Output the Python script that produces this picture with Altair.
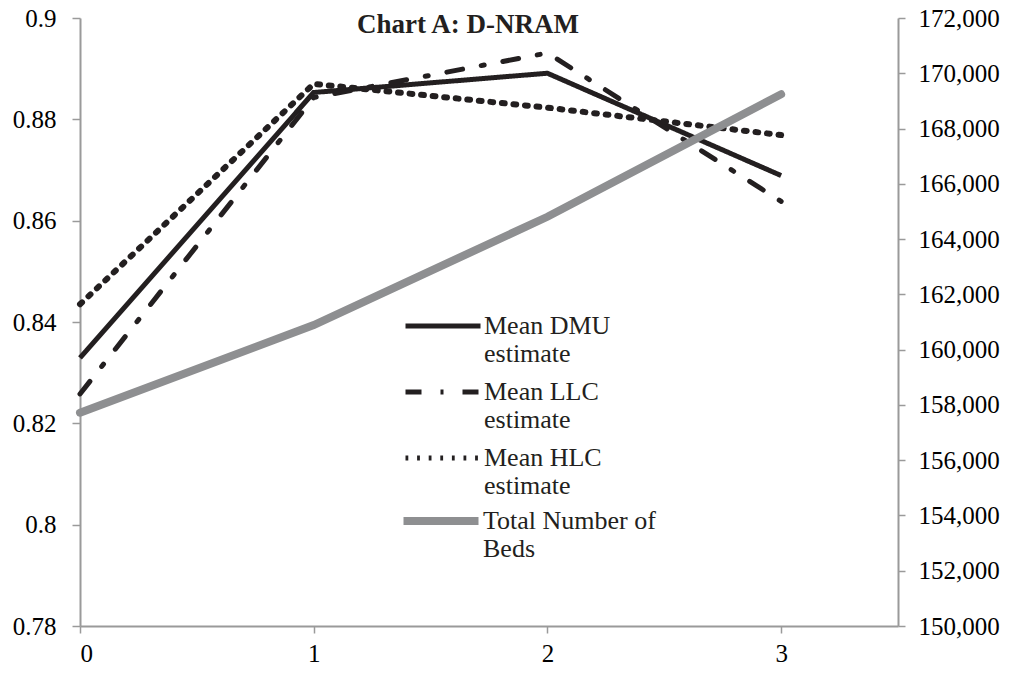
import altair as alt
import pandas as pd

x_vals = [0, 1, 2, 3]
dmu = [0.8329, 0.8853, 0.8891, 0.8689]
llc = [0.8258, 0.8843, 0.8931, 0.8638]
hlc = [0.8435, 0.8870, 0.8823, 0.8769]
beds = [157717, 160890, 164808, 169240]

mean_names = ["Mean DMU\nestimate", "Mean LLC\nestimate", "Mean HLC\nestimate"]
beds_name = "Total Number of\nBeds"
mean_colors = ["#231f20", "#231f20", "#231f20"]
beds_color = "#8e8f91"
dashes = [[1, 0], [16, 19, 3, 19], [2.8, 8.8]]

left_rows = []
for name, vals in zip(mean_names, [dmu, llc, hlc]):
    for xv, v in zip(x_vals, vals):
        left_rows.append({"x": xv, "value": v, "series": name})
left_df = pd.DataFrame(left_rows)
right_df = pd.DataFrame({"x": x_vals, "value": beds, "series2": beds_name})

FONT = "Liberation Serif"
AX_GRAY = "#9a9a9a"
SYMBOL = "M-6.25,0H1.25"

leg1 = alt.Legend(labelExpr="split(datum.label, '\\n')", title=None,
                  orient="none", legendX=375, legendY=295, symbolStrokeWidth=5,
                  rowPadding=12)
leg2 = alt.Legend(labelExpr="split(datum.label, '\\n')", title=None,
                  orient="none", legendX=372, legendY=489, symbolStrokeWidth=8)

color = alt.Color("series:N", scale=alt.Scale(domain=mean_names, range=mean_colors),
                  sort=mean_names, legend=leg1)
dash = alt.StrokeDash("series:N", scale=alt.Scale(domain=mean_names, range=dashes),
                      sort=mean_names, legend=leg1)

xenc = alt.X("x:Q", scale=alt.Scale(domain=[0, 3.5], nice=False),
             axis=alt.Axis(values=[0, 1, 2, 3], format="d", title=None, grid=False,
                           domainColor=AX_GRAY, domainWidth=2, tickColor=AX_GRAY,
                           tickWidth=1.5, tickSize=7, labelPadding=8))

yleft = alt.Y("value:Q", scale=alt.Scale(domain=[0.78, 0.9], nice=False, zero=False),
              axis=alt.Axis(orient="left", values=[0.78, 0.8, 0.82, 0.84, 0.86, 0.88, 0.9],
                            format=".2~f", title=None, grid=False,
                            domainColor=AX_GRAY, domainWidth=2, tickColor=AX_GRAY,
                            tickWidth=1.5, tickSize=8, labelPadding=16))

base_left = alt.Chart(left_df).encode(x=xenc, y=yleft, color=color, strokeDash=dash)

l_dmu = base_left.transform_filter(alt.datum.series == mean_names[0]).mark_line(
    strokeCap="butt", strokeWidth=5)
l_llc = base_left.transform_filter(alt.datum.series == mean_names[1]).mark_line(
    strokeCap="round", strokeWidth=5)
l_hlc = base_left.transform_filter(alt.datum.series == mean_names[2]).mark_line(
    strokeCap="round", strokeWidth=6)

left = alt.layer(l_dmu, l_llc, l_hlc)

right = alt.Chart(right_df).mark_line(strokeCap="round", strokeWidth=8).encode(
    x=xenc,
    y=alt.Y("value:Q", scale=alt.Scale(domain=[150000, 172000], nice=False, zero=False),
            axis=alt.Axis(orient="right", values=list(range(150000, 172001, 2000)),
                          format=",d", title=None, grid=False,
                          domainColor=AX_GRAY, domainWidth=2, tickColor=AX_GRAY,
                          tickWidth=1.5, tickSize=7, labelPadding=13)),
    stroke=alt.Stroke("series2:N", scale=alt.Scale(domain=[beds_name], range=[beds_color]),
                      legend=leg2),
)

chart = alt.layer(left, right).resolve_scale(y="independent").properties(
    width=818, height=608,
    autosize=alt.AutoSizeParams(type="none"),
    padding={"left": 72, "top": 10, "right": 105, "bottom": 50},
    title=alt.TitleParams("Chart A: D-NRAM", font=FONT, fontSize=27, fontWeight="bold",
                          color="#231f20", anchor="middle", frame="group", dx=-21,
                          baseline="alphabetic", offset=-54),
).configure(font=FONT).configure_view(stroke=None).configure_axis(
    labelFont=FONT, labelFontSize=25, labelColor="black",
).configure_legend(
    labelFont=FONT, labelFontSize=26, labelColor="#231f20",
    symbolType=SYMBOL, symbolSize=400,
    labelOffset=3, labelLimit=400, padding=0,
)

chart.save("out.html", embed_options={"renderer": "svg", "actions": False})
